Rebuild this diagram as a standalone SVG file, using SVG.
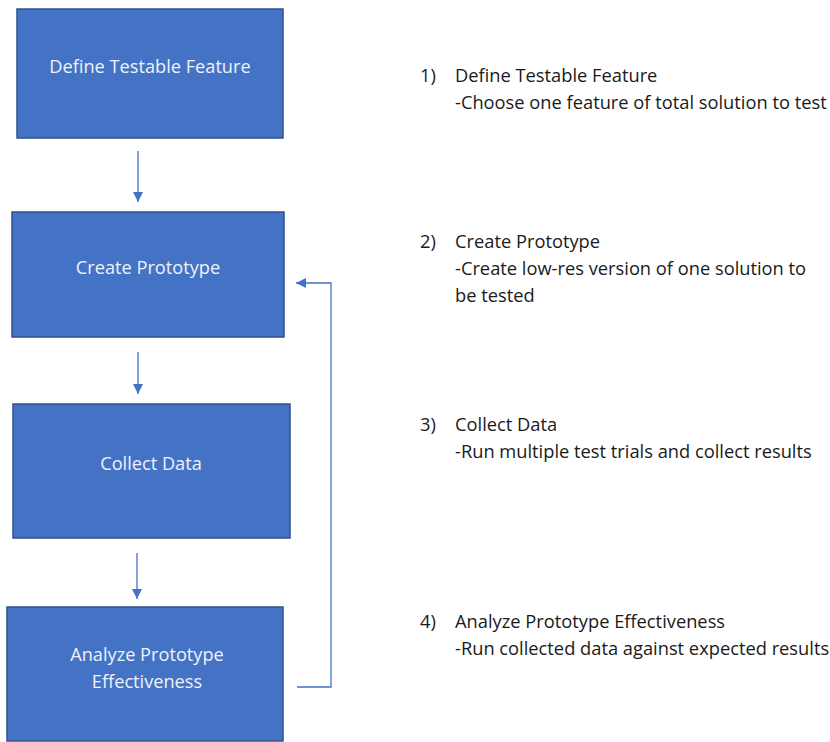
<svg xmlns="http://www.w3.org/2000/svg" width="830" height="742" viewBox="0 0 830 742">
<style>
.box{fill:#4472C4;stroke:#2F528F;stroke-width:1.5}
.bt{font-family:"Open Sans","Liberation Sans",sans-serif;font-size:18.2px;fill:#EEF2FA;text-anchor:middle}
.rt{font-family:"Open Sans","Liberation Sans",sans-serif;font-size:18.3px;fill:#1a1a1a}
.conn{fill:none;stroke:#4472C4;stroke-width:1.3}
</style>
<defs>
<marker id="ah" viewBox="0 0 10 10" refX="10" refY="5" markerWidth="10" markerHeight="10" markerUnits="userSpaceOnUse" orient="auto">
<path d="M0,0 L10,5 L0,10 z" fill="#4472C4"/>
</marker>
</defs>
<rect width="830" height="742" fill="#ffffff"/>
<g id="n1"><rect class="box" x="17" y="9" width="266" height="129"/><text class="bt" x="150" y="73">Define Testable Feature</text></g>
<g id="n2"><rect class="box" x="12" y="212" width="272" height="125"/><text class="bt" x="148" y="274">Create Prototype</text></g>
<g id="n3"><rect class="box" x="13" y="404" width="277" height="134"/><text class="bt" x="151" y="470">Collect Data</text></g>
<g id="n4"><rect class="box" x="7" y="607" width="276" height="134"/><text class="bt" x="147" y="661">Analyze Prototype</text><text class="bt" x="147" y="688">Effectiveness</text></g>
<g id="connectors">
<line class="conn" x1="138" y1="151" x2="138" y2="202" marker-end="url(#ah)"/>
<line class="conn" x1="138" y1="352" x2="138" y2="394" marker-end="url(#ah)"/>
<line class="conn" x1="137" y1="553" x2="137" y2="599" marker-end="url(#ah)"/>
<polyline class="conn" points="297,687 331,687 331,283 296,283" marker-end="url(#ah)"/>
</g>
<g id="notes">
<text class="rt" x="420" y="82">1)</text><text class="rt" x="455" y="82">Define Testable Feature</text>
<text class="rt" x="455" y="109">-Choose one feature of total solution to test</text>
<text class="rt" x="420" y="248">2)</text><text class="rt" x="455" y="248">Create Prototype</text>
<text class="rt" x="455" y="275">-Create low-res version of one solution to</text>
<text class="rt" x="455" y="302">be tested</text>
<text class="rt" x="420" y="431">3)</text><text class="rt" x="455" y="431">Collect Data</text>
<text class="rt" x="455" y="458">-Run multiple test trials and collect results</text>
<text class="rt" x="420" y="628">4)</text><text class="rt" x="455" y="628">Analyze Prototype Effectiveness</text>
<text class="rt" x="455" y="655">-Run collected data against expected results</text>
</g>
</svg>
